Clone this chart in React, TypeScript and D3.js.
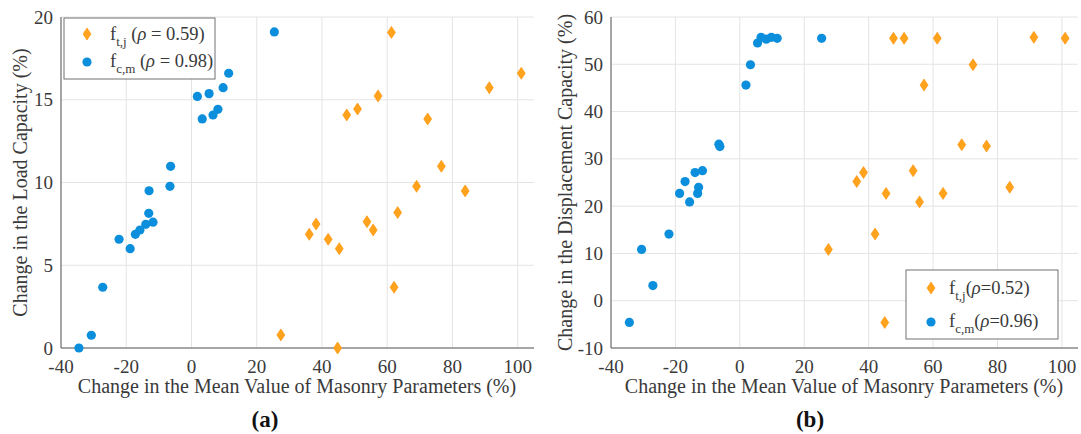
import React from "react";
import * as d3 from "d3";

// ---- Data ----
const xTicks = [-40, -20, 0, 20, 40, 60, 80, 100];
const yTicksA = [0, 5, 10, 15, 20];
const yTicksB = [-10, 0, 10, 20, 30, 40, 50, 60];

const aFtjX = [61.3, 101.1, 91.3, 57.2, 50.9, 47.6, 72.4, 76.6, 69.0, 83.9, 63.2, 38.2, 53.8, 55.7, 36.1, 41.9, 45.3, 62.1, 27.4, 44.8];
const aFtjY = [19.07, 16.6, 15.73, 15.23, 14.44, 14.08, 13.84, 10.98, 9.77, 9.49, 8.18, 7.49, 7.63, 7.13, 6.87, 6.57, 6.0, 3.67, 0.79, 0];
const aFcmX = [25.4, 1.8, 5.4, 3.3, 6.6, 8.1, 9.7, 11.4, -6.4, -6.6, -13.0, -13.1, -14.0, -11.8, -15.8, -17.2, -22.2, -18.8, -27.2, -30.7, -34.5];
const aFcmY = [19.1, 15.2, 15.37, 13.84, 14.08, 14.42, 15.73, 16.6, 10.98, 9.77, 9.5, 8.14, 7.47, 7.6, 7.13, 6.87, 6.57, 6.0, 3.67, 0.77, 0];

const bFtjX = [47.7, 51.0, 61.3, 91.3, 101.0, 72.4, 57.2, 68.9, 76.6, 38.4, 36.3, 53.8, 83.8, 45.4, 63.1, 55.8, 42.0, 27.5, 45.0];
const bFtjY = [55.5, 55.5, 55.5, 55.7, 55.5, 49.9, 45.6, 33.0, 32.7, 27.1, 25.2, 27.5, 24.0, 22.7, 22.7, 20.9, 14.1, 10.85, -4.6];
const bFcmX = [25.4, 1.9, 3.3, 5.5, 6.6, 8.2, 9.8, 11.6, -6.5, -6.2, -11.6, -13.9, -17.0, -12.8, -13.1, -18.7, -15.6, -22.0, -30.5, -27.0, -34.3];
const bFcmY = [55.5, 45.6, 49.9, 54.5, 55.7, 55.3, 55.7, 55.5, 33.1, 32.6, 27.5, 27.1, 25.2, 24.0, 22.7, 22.7, 20.9, 14.1, 10.85, 3.2, -4.6];

const rhoA = ["0.59", "0.98"];
const rhoB = ["0.52", "0.96"];

const BLUE = "#0b8fdc";
const ORANGE = "#ffa21c";
const ORANGE_EDGE = "#ff8f00";
const TEXT = "#3a3a3a";
const AXIS = "#5a5a5a";
const GRID = "#e4e4e4";
const FONT = '"Liberation Serif", "Times New Roman", "DejaVu Serif", serif';

const diamond = (w: number, h: number) => `M0,${-h}L${w},0L0,${h}L${-w},0Z`;

type PanelProps = {
  x0: number; x1: number; y0: number; y1: number;
  yDomain: [number, number]; yTicks: number[];
  ftjX: number[]; ftjY: number[]; fcmX: number[]; fcmY: number[];
  yLabel: string; yLabelX: number; xLabelCx: number; tag: string; tagCx: number;
  legend: { x: number; y: number; w: number; h: number; mx: number; tx: number; r1: number; r2: number; rho: string[]; spaced: boolean };
};

const ts = { fontFamily: FONT };

function Legend({ lg }: { lg: PanelProps["legend"] }) {
  const sub = (s: string) => (
    <tspan fontSize={13} dy={6}>{s}</tspan>
  );
  const rest = (r: string) =>
    lg.spaced ? (
      <>
        <tspan dy={-6}>{" ("}</tspan>
        <tspan fontStyle="italic">ρ</tspan>
        <tspan>{` = ${r})`}</tspan>
      </>
    ) : (
      <>
        <tspan dy={-6}>(</tspan>
        <tspan fontStyle="italic">ρ</tspan>
        <tspan>{`=${r})`}</tspan>
      </>
    );
  return (
    <g>
      <rect x={lg.x} y={lg.y} width={lg.w} height={lg.h} fill="#fff" stroke="#707070" strokeWidth={1} />
      <path d={diamond(4, 6)} transform={`translate(${lg.mx},${lg.r1})`} fill={ORANGE} stroke={ORANGE_EDGE} strokeWidth={0.6} />
      <circle cx={lg.mx} cy={lg.r2} r={4.6} fill={BLUE} />
      <text x={lg.tx} y={lg.r1 + 6} fontSize={18.5} fill={TEXT} style={ts}>
        f{sub("t,j")}{rest(lg.rho[0])}
      </text>
      <text x={lg.tx} y={lg.r2 + 5} fontSize={18.5} fill={TEXT} style={ts}>
        f{sub("c,m")}{rest(lg.rho[1])}
      </text>
    </g>
  );
}

function Panel(p: PanelProps) {
  const x = d3.scaleLinear().domain([-40, 105]).range([p.x0, p.x1]);
  const y = d3.scaleLinear().domain(p.yDomain).range([p.y0, p.y1]);
  const ymid = (p.y0 + p.y1) / 2;
  return (
    <g>
      {/* grid */}
      {xTicks.map((t) => (
        <line key={"gx" + t} x1={x(t)} x2={x(t)} y1={p.y0} y2={p.y1} stroke={GRID} strokeWidth={1} />
      ))}
      {p.yTicks.map((t) => (
        <line key={"gy" + t} x1={p.x0} x2={p.x1} y1={y(t)} y2={y(t)} stroke={GRID} strokeWidth={1} />
      ))}
      {/* axes */}
      <line x1={p.x0} x2={p.x0} y1={p.y0} y2={p.y1} stroke={AXIS} strokeWidth={1} />
      <line x1={p.x0} x2={p.x1} y1={p.y0} y2={p.y0} stroke={AXIS} strokeWidth={1} />
      {/* tick labels */}
      {xTicks.map((t) => (
        <text key={"tx" + t} x={x(t)} y={p.y0 + 25} textAnchor="middle" fontSize={19} fill={TEXT} style={ts}>
          {t}
        </text>
      ))}
      {p.yTicks.map((t) => (
        <text key={"ty" + t} x={p.x0 - 8} y={y(t) + 6.5} textAnchor="end" fontSize={19} fill={TEXT} style={ts}>
          {t}
        </text>
      ))}
      {/* labels */}
      <text
        transform={`translate(${p.yLabelX},${ymid}) rotate(-90)`}
        textAnchor="middle"
        fontSize={20}
        fill={TEXT}
        style={ts}
      >
        {p.yLabel}
      </text>
      <text x={p.xLabelCx} y={p.y0 + 45} textAnchor="middle" fontSize={20} fill={TEXT} style={ts}>
        Change in the Mean Value of Masonry Parameters (%)
      </text>
      <text x={p.tagCx} y={p.y0 + 79} textAnchor="middle" fontSize={23} fontWeight="bold" fill="#111" style={ts}>
        {p.tag}
      </text>
      {/* markers */}
      {p.ftjX.map((v, i) => (
        <path
          key={"d" + i}
          d={diamond(4, 6)}
          transform={`translate(${x(v)},${y(p.ftjY[i])})`}
          fill={ORANGE}
          stroke={ORANGE_EDGE}
          strokeWidth={0.6}
        />
      ))}
      {p.fcmX.map((v, i) => (
        <circle key={"c" + i} cx={x(v)} cy={y(p.fcmY[i])} r={4.6} fill={BLUE} />
      ))}
      <Legend lg={p.legend} />
    </g>
  );
}

export default function App() {
  return (
    <svg
      width={1081}
      height={434}
      style={{ position: "absolute", left: 0, top: 0, background: "#fff", fontFamily: FONT }}
    >
      <Panel
        x0={61} x1={534} y0={348} y1={17}
        yDomain={[0, 20]} yTicks={yTicksA}
        ftjX={aFtjX} ftjY={aFtjY} fcmX={aFcmX} fcmY={aFcmY}
        yLabel="Change in the Load Capacity (%)" yLabelX={27}
        xLabelCx={297} tag="(a)" tagCx={265}
        legend={{ x: 64, y: 18, w: 151, h: 61, mx: 87, tx: 110, r1: 34, r2: 62, rho: rhoA, spaced: true }}
      />
      <Panel
        x0={611} x1={1078} y0={348} y1={17}
        yDomain={[-10, 60]} yTicks={yTicksB}
        ftjX={bFtjX} ftjY={bFtjY} fcmX={bFcmX} fcmY={bFcmY}
        yLabel="Change in the Displacement Capacity (%)" yLabelX={572}
        xLabelCx={844} tag="(b)" tagCx={810}
        legend={{ x: 906, y: 270, w: 152, h: 69, mx: 931, tx: 949, r1: 288, r2: 322, rho: rhoB, spaced: false }}
      />
    </svg>
  );
}
